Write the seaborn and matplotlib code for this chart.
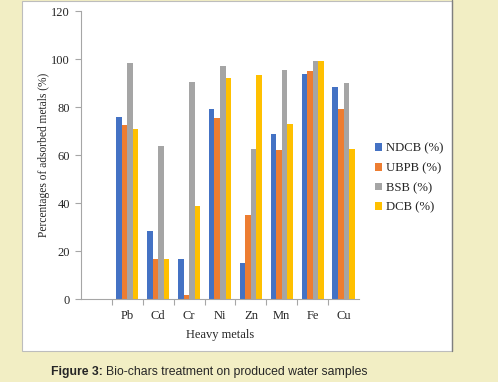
import matplotlib
matplotlib.use("Agg")
import matplotlib.pyplot as plt
import seaborn as sns
import pandas as pd
import numpy as np
from matplotlib.patches import Rectangle
from matplotlib.ticker import FixedLocator

metals = ["Pb", "Cd", "Cr", "Ni", "Zn", "Mn", "Fe", "Cu"]
series = ["NDCB (%)", "UBPB (%)", "BSB (%)", "DCB (%)"]
ndcb = [76, 28.5, 16.5, 79.2, 15, 68.8, 93.8, 88.2]
ubpb = [72.6, 16.5, 1.7, 75.5, 34.8, 62, 95, 79.2]
bsb = [98.3, 63.8, 90.5, 97.1, 62.6, 95.5, 99.2, 90.1]
dcb = [71, 16.5, 38.8, 92, 93.4, 72.9, 99.2, 62.6]
colors = ["#4472C4", "#ED7D31", "#A5A5A5", "#FFC000"]

rows = []
for name, vals in zip(series, [ndcb, ubpb, bsb, dcb]):
    for m, v in zip(metals, vals):
        rows.append({"metal": m, "series": name, "value": v})
df = pd.DataFrame(rows)

sns.set_style("white")
plt.rcParams["font.family"] = ["Liberation Serif", "DejaVu Serif"]

fig = plt.figure(figsize=(4.98, 3.82), dpi=100)
fig.patch.set_facecolor("#F2EEC4")
W, H = 498, 382
panel = Rectangle((22 / W, 1 - 351 / H), (452 - 22) / W, (351 - 0.8) / H,
                  transform=fig.transFigure, facecolor="white",
                  edgecolor="#BDBDBD", linewidth=0.8, zorder=-5)
fig.patches.append(panel)
fig.add_artist(plt.Line2D([451.5 / W, 451.5 / W], [1 - 351 / H, 1], transform=fig.transFigure,
                          color="#7F7F7F", linewidth=1.0, zorder=-4))

ax = fig.add_axes([81 / W, 1 - 299 / H, (359 - 81) / W, (299 - 11) / H])
ax.set_zorder(2)
ax.patch.set_alpha(0)
order = [" "] + metals
sns.barplot(data=df, x="metal", y="value", hue="series", order=order,
            hue_order=series, palette=colors, width=0.72, saturation=1,
            ax=ax, linewidth=0, errorbar=None)

ax.set_ylim(0, 120)
ax.set_yticks([0, 20, 40, 60, 80, 100, 120])
ax.set_xlim(-0.5, len(order) - 0.5)
ax.set_xticks(range(len(order)))
ax.set_xticklabels(order, fontsize=9)
ax.tick_params(axis="x", which="major", length=0, pad=8)
ax.xaxis.set_minor_locator(FixedLocator(np.arange(0.5, len(order) - 0.5, 1.0)))
ax.tick_params(axis="x", which="minor", length=4, color="#A6A6A6", width=0.8, bottom=True)
ax.tick_params(axis="y", length=4, color="#A6A6A6", width=0.8, labelsize=9, left=True, pad=4)

for s in ["top", "right"]:
    ax.spines[s].set_visible(False)
for s in ["left", "bottom"]:
    ax.spines[s].set_color("#A6A6A6")
    ax.spines[s].set_linewidth(0.8)

ax.set_xlabel("Heavy metals", fontsize=9, labelpad=5)
ax.set_ylabel("Percentages of adsorbed metals (%)", fontsize=8.3, labelpad=1)

handles, labels = ax.get_legend_handles_labels()
ax.legend(handles, labels, loc="center left", bbox_to_anchor=(1.04, 0.42),
          frameon=False, fontsize=9.2, handlelength=0.55, handleheight=0.55,
          handletextpad=0.3, labelspacing=0.6, borderaxespad=0)

t1 = fig.text(51 / W, 1 - 372 / H, "Figure 3:", fontsize=8.8, fontweight="bold",
              family=["Liberation Sans", "DejaVu Sans"], va="center", ha="left")
fig.canvas.draw()
bb = t1.get_window_extent(renderer=fig.canvas.get_renderer())
fig.text(bb.x1 / W + 3 / W, 1 - 372 / H, "Bio-chars treatment on produced water samples", fontsize=8.8,
         family=["Liberation Sans", "DejaVu Sans"], va="center", ha="left")

fig.savefig("out.png", dpi=100, facecolor=fig.get_facecolor())
